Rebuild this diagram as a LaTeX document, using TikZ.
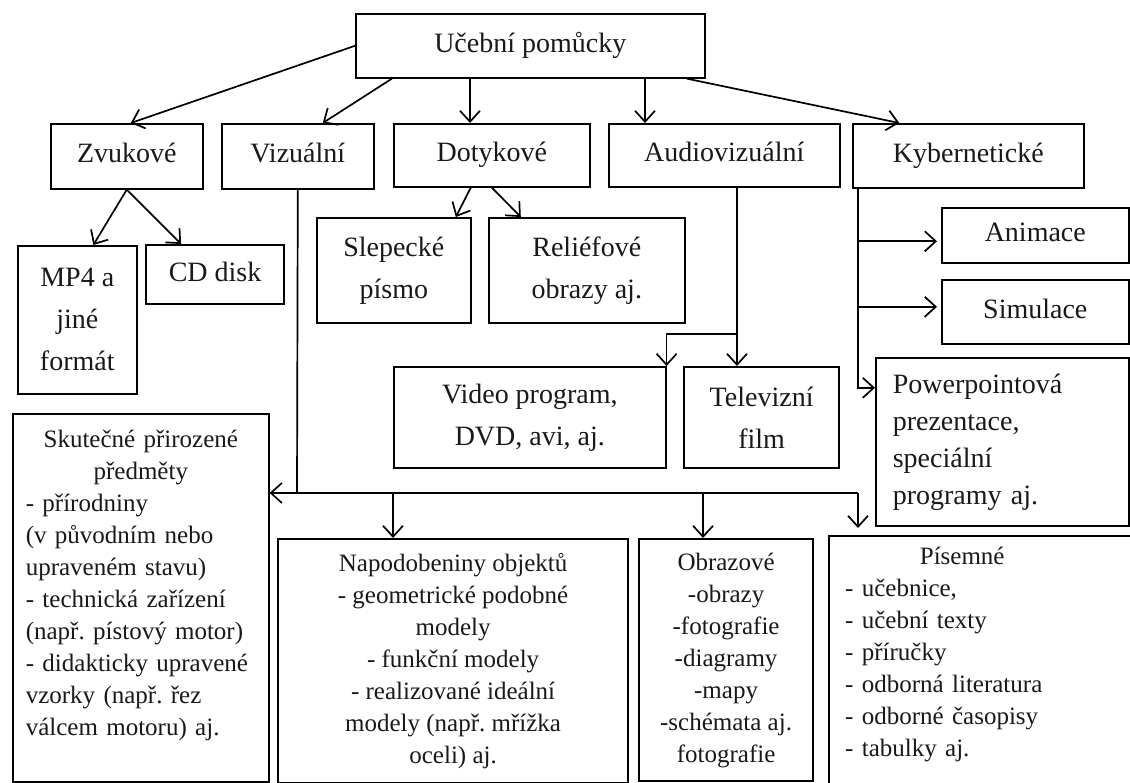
\documentclass[tikz,border=0pt]{standalone}
\usepackage{fontspec}
\setmainfont{Liberation Serif}
\usetikzlibrary{arrows.meta}
\frenchspacing
\begin{document}
\begin{tikzpicture}[x=1pt,y=-1pt,
  box/.style={draw, line width=1.6pt, inner sep=0pt, anchor=north west, align=center,
              text=black!90, font=\fontsize{28}{42}\selectfont\frenchspacing},
  one/.style={text height=19pt, text depth=6pt},
  small/.style={font=\fontsize{25}{32}\selectfont\frenchspacing},
  txt/.style={inner sep=0pt, text=black!90},
  line/.style={line width=1.7pt},
  arr/.style={line width=1.7pt, -{Straight Barb[length=11pt,width=20pt,line width=1.7pt]}}]
\useasboundingbox (0,0) rectangle (1130,783);
\fill[white] (0,0) rectangle (1130,783);

% level 0 and 1
\node[box, one, minimum width=349, minimum height=64] (top) at (355,13) {Učební pomůcky};
\node[box, one, minimum width=152, minimum height=65] (zv)  at (50,123)  {Zvukové};
\node[box, one, minimum width=152, minimum height=65] (viz) at (221,123) {Vizuální};
\node[box, one, minimum width=196, minimum height=63] (dot) at (393,123) {Dotykové};
\node[box, one, minimum width=231, minimum height=63] (aud) at (608,123) {Audiovizuální};
\node[box, one, minimum width=231, minimum height=64] (kyb) at (852,123) {Kybernetické};

% level 2
\node[box, minimum width=119, minimum height=148] (mp4) at (17,245) {MP4 a\\jiné\\formát};
\node[box, one, minimum width=138, minimum height=59, line width=2.2pt] (cd) at (145,244) {CD disk};
\node[box, minimum width=154, minimum height=105] (slep) at (316,217) {Slepecké\\písmo};
\node[box, minimum width=196, minimum height=105] (rel) at (488,217) {Reliéfové\\obrazy aj.};
\node[box, minimum width=272, minimum height=101] (video) at (393,366) {Video program,\\DVD, avi, aj.};
\node[box, minimum width=155, minimum height=101, line width=2.2pt] (tel) at (683,366) {Televizní\\film};
\node[box, one, minimum width=187, minimum height=55] (anim) at (941,207) {Animace};
\node[box, one, minimum width=187, minimum height=64] (sim) at (941,279) {Simulace};
\node[box, minimum width=253, minimum height=168, text width=219pt, align=left,
      font=\fontsize{28}{37}\selectfont\frenchspacing] (pp) at (875,357)
      {\raggedright Powerpointová\\prezentace,\\speciální\\programy aj.};

% bottom row
\node[box, small, minimum width=256, minimum height=368, text width=230pt, align=left] (skut) at (12,413)
  {{\centering Skutečné přirozené\\předměty\par}%
   \raggedright - přírodniny\\(v původním nebo\\upraveném stavu)\\- technická zařízení\\(např. pístový motor)\\- didakticky upravené\\vzorky (např. řez\\válcem motoru) aj.\par\vspace*{24pt}};
\node[box, small, minimum width=350, minimum height=244, line width=2.2pt] (nap) at (277,538)
  {Napodobeniny objektů\\- geometrické podobné\\modely\\- funkční modely\\- realizované ideální\\modely (např. mřížka\\oceli) aj.};
\node[box, small, minimum width=174, minimum height=242, line width=2.2pt] (obr) at (638,538)
  {Obrazové\\-obrazy\\-fotografie\\-diagramy\\-mapy\\-schémata aj.\\fotografie};
\node[box, minimum width=330, minimum height=270] (pis) at (828,535) {};
\node[txt, small, anchor=west, text width=280pt, align=left] (pisT) at (845,655)
  {\raggedright\makebox[234pt][c]{Písemné}\\- učebnice,\\- učební texty\\- příručky\\- odborná literatura\\- odborné časopisy\\- tabulky aj.};

% connectors from the top box
\draw[arr] (top.west) -- ([xshift=4]zv.north);
\draw[arr] ([xshift=37]top.south west) -- ([xshift=25]viz.north);
\draw[arr] (top.south -| 470,0) -- (dot.north -| 470,0);
\draw[arr] (top.south -| 645,0) -- (aud.north -| 645,0);
\draw[arr] ([xshift=-19]top.south east) -- ([xshift=-69]kyb.north);

% Zvukove
\draw[arr] (zv.south) -- ([xshift=16]mp4.north);
\draw[arr] (zv.south) -- ([xshift=-34]cd.north);

% Dotykove
\draw[arr] ([xshift=-21]dot.south) -- ([xshift=62]slep.north);
\draw[arr] (dot.south) -- ([xshift=-66]rel.north);

% Audiovizualni
\coordinate (abr) at (737,334);
\draw[arr] (aud.south -| abr) -- (tel.north -| abr);
\draw[arr] (abr) -| (video.north east);

% Kyberneticke
\coordinate (kx) at (858,0);
\draw[arr] (kyb.south -| kx) |- ([yshift=54]pp.west);
\draw[arr] ([yshift=-6]anim.west -| kx) -- ([xshift=-4,yshift=-6]anim.west);
\draw[arr] ([yshift=5]sim.west -| kx) -- ([xshift=-4,yshift=5]sim.west);

% Vizualni bus
\coordinate (bus) at (297,493);
\coordinate (busR) at (858,493);
\draw[line] (viz.south) -- (bus);
\draw[arr] (busR) -- (bus -| skut.east);
\draw[arr] (busR) -- ([yshift=7]busR |- pis.north);
\draw[arr] (bus -| 393,0) -- (nap.north -| 393,0);
\draw[arr] (bus -| 703,0) -- (obr.north -| 703,0);
\end{tikzpicture}
\end{document}
